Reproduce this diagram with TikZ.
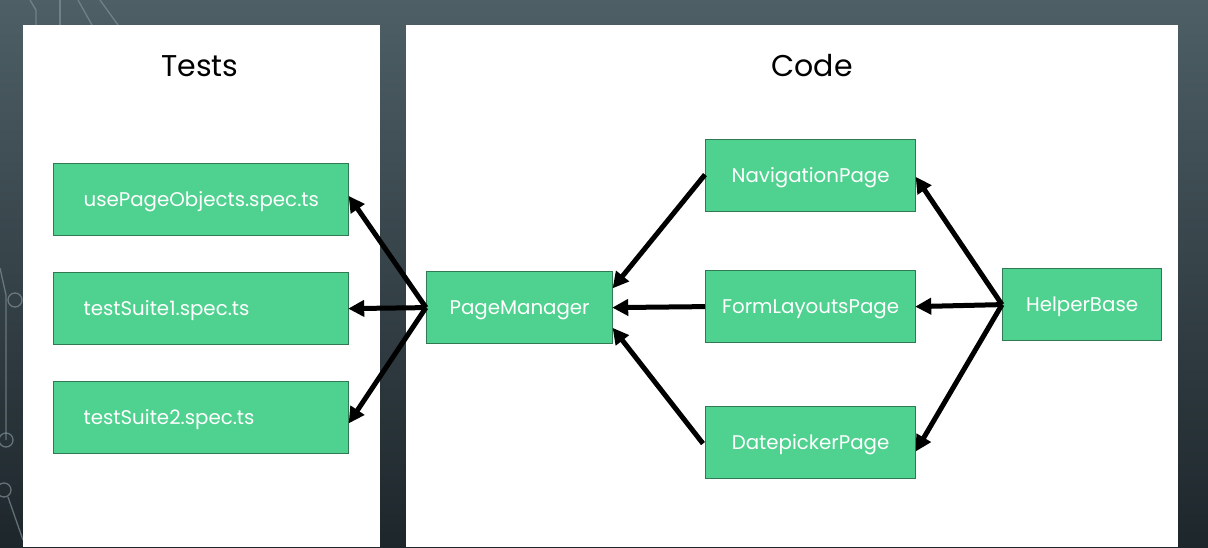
\documentclass[tikz,border=0pt]{standalone}
\usepackage{fontspec}
\setmainfont{Poppins}
\usetikzlibrary{arrows.meta,calc}
\definecolor{bgtop}{HTML}{4E5F66}
\definecolor{bgbot}{HTML}{1D262B}
\definecolor{boxgreen}{HTML}{4FD18F}
\definecolor{boxedge}{HTML}{2F7A52}
\definecolor{circuit}{HTML}{7F9096}
\tikzset{
  panel/.style={fill=white, draw=none},
  gbox/.style={rectangle, fill=boxgreen, draw=boxedge, line width=1.2pt, text=white,
    font=\fontsize{19.8}{24}\selectfont, minimum height=72pt, inner sep=0pt,
    text height=16pt, text depth=2pt},
  tbox/.style={gbox, minimum width=295pt, text width=235pt, align=left, inner xsep=30pt, anchor=north west},
  cbox/.style={gbox, anchor=north west},
  title/.style={font=\fontsize{30}{36}\selectfont, text=black},
  conn/.style={line width=5pt, -{Triangle[length=16pt,width=16pt]}, shorten >=-1pt},
  deco/.style={draw=circuit, line width=1.3pt, opacity=0.7}
}
\begin{document}
\begin{tikzpicture}[x=1pt,y=-1pt]
\useasboundingbox (0,0) rectangle (1208,547);
\shade[top color=bgtop, bottom color=bgbot] (0,0) rectangle (1208,547);
% circuit decoration
\draw[deco] (30,0) -- (36,10) -- (36,25);
\draw[deco] (60,0) -- (60,25);
\draw[deco] (78,0) -- (92,25);
\draw[deco] (100,0) -- (118,25);
\draw[deco] (0,268) -- (6,295) -- (6,440);
\draw[deco] (15,300) circle (7);
\draw[deco] (6,440) circle (7);
\draw[deco] (4,490) circle (7);
\draw[deco] (8,497) -- (23,540);
% panels
\fill[panel] (23,25) rectangle (380,547);
\fill[panel] (406,25) rectangle (1178,547);
\node[title] (tt) at (200,66) {Tests};
\node[title] (ct) at (812,66) {Code};
% test boxes
\node[tbox] (t1) at (53,163) {usePageObjects.spec.ts};
\node[tbox] (t2) at (53,272) {testSuite1.spec.ts};
\node[tbox] (t3) at (53,381) {testSuite2.spec.ts};
% code boxes
\node[cbox, minimum width=186pt] (pm) at (426,271) {PageManager};
\node[cbox, minimum width=210pt] (nav) at (705,139) {NavigationPage};
\node[cbox, minimum width=210pt] (flp) at (705,270) {FormLayoutsPage};
\node[cbox, minimum width=210pt] (dp) at (705,406) {DatepickerPage};
\node[cbox, minimum width=159pt] (hb) at (1002,268) {HelperBase};
% connectors
\draw[conn] (pm.west) -- ($(t1.east)+(0,-3)$);
\draw[conn] (pm.west) -- (t2.east);
\draw[conn] (pm.west) -- ($(t3.east)+(0,5)$);
\draw[conn] ($(nav.west)+(0,-1)$) -- ($(pm.east)+(0,-20)$);
\draw[conn] (flp.west) -- (pm.east);
\draw[conn] ($(dp.west)+(-2,1)$) -- ($(pm.east)+(0,21)$);
\draw[conn] (hb.west) -- ($(nav.east)+(0,2)$);
\draw[conn] (hb.west) -- (flp.east);
\draw[conn] (hb.west) -- ($(dp.east)+(0,8)$);
\end{tikzpicture}
\end{document}
